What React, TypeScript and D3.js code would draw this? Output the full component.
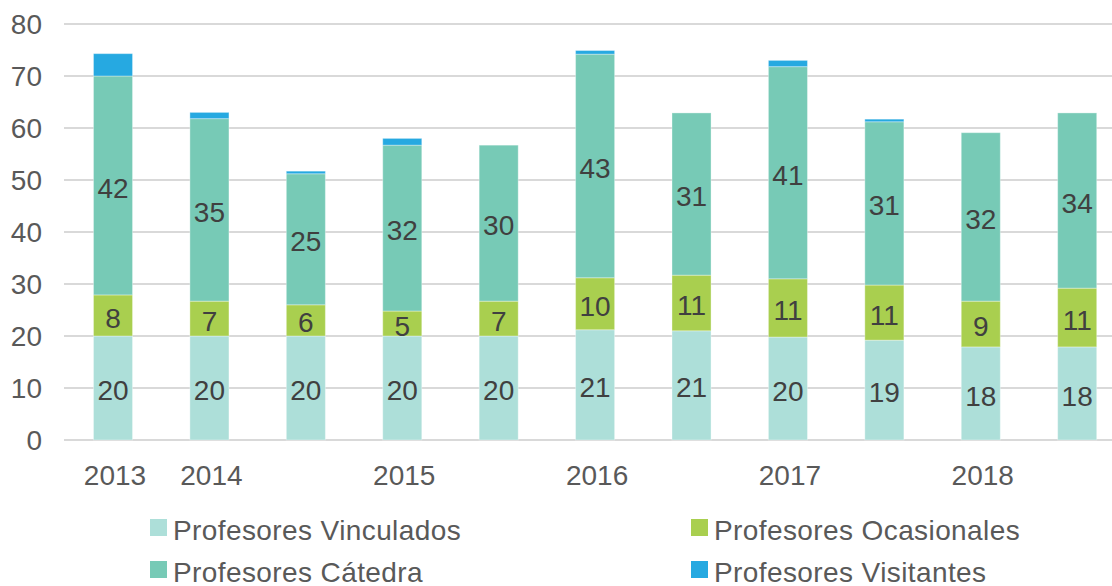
import React, { useEffect, useRef } from "react";
import * as d3 from "d3";

// categories (one per bar); only some get a year label under them
const categories = ["c1", "c2", "c3", "c4", "c5", "c6", "c7", "c8", "c9", "c10", "c11"];
const xLabels = ["2013", "2014", "", "2015", "", "2016", "", "2017", "", "2018", ""];

const vinculados = [20, 20, 20, 20, 20, 21.2, 21, 19.8, 19.2, 17.9, 17.9];
const ocasionales = [7.9, 6.7, 6.0, 4.8, 6.7, 10, 10.7, 11.2, 10.6, 8.8, 11.3];
const catedra = [42.1, 35.1, 25.2, 31.9, 30.0, 43.0, 31.2, 40.8, 31.4, 32.4, 33.7];
const visitantes = [4.3, 1.2, 0.5, 1.3, 0, 0.7, 0, 1.2, 0.5, 0, 0];

const seriesNames = ["Profesores Vinculados", "Profesores Ocasionales", "Profesores Cátedra", "Profesores Visitantes"];
const seriesColors = ["#addfd9", "#a9cf4f", "#77cab6", "#26a9e1"];
const labeledSeries = [true, true, true, false];

const yTicks = [0, 10, 20, 30, 40, 50, 60, 70, 80];

const W = 1112;
const H = 586;
const FONT = "'Liberation Sans', Arial, Helvetica, sans-serif";

export default function App() {
  const ref = useRef<SVGSVGElement | null>(null);

  useEffect(() => {
    const svg = d3.select(ref.current);
    svg.selectAll("*").remove();

    const rows = categories.map((c, i) => ({
      cat: c,
      s0: vinculados[i],
      s1: ocasionales[i],
      s2: catedra[i],
      s3: visitantes[i],
    }));
    const keys = ["s0", "s1", "s2", "s3"];
    const stacked = d3.stack<any>().keys(keys)(rows);

    const x = d3.scaleBand().domain(categories).range([64.8, 1125.4]).paddingInner(0.595).paddingOuter(0.2975);
    const y = d3.scaleLinear().domain([0, 80]).range([440, 24]);

    // gridlines
    svg.append("g")
      .selectAll("line")
      .data(yTicks)
      .join("line")
      .attr("x1", 64)
      .attr("x2", W)
      .attr("y1", (d) => y(d))
      .attr("y2", (d) => y(d))
      .attr("stroke", "#d9d9d9")
      .attr("stroke-width", 2);

    // y tick labels
    svg.append("g")
      .selectAll("text")
      .data(yTicks)
      .join("text")
      .attr("x", 42)
      .attr("y", (d) => y(d))
      .attr("dy", "0.36em")
      .attr("text-anchor", "end")
      .attr("font-family", FONT)
      .attr("font-size", 28)
      .attr("fill", "#595959")
      .text((d) => d);

    // bars
    const layers = svg.append("g")
      .selectAll("g")
      .data(stacked)
      .join("g")
      .attr("fill", (d, i) => seriesColors[i]);

    layers.selectAll("rect")
      .data((d) => d.filter((p) => p[1] - p[0] > 0))
      .join("rect")
      .attr("x", (d) => x(d.data.cat) as number)
      .attr("width", x.bandwidth())
      .attr("y", (d) => y(d[1]))
      .attr("height", (d) => y(d[0]) - y(d[1]))
      .attr("stroke", "#ffffff")
      .attr("stroke-opacity", 0.35)
      .attr("stroke-width", 1);

    // value labels inside the segments
    stacked.forEach((layer, si) => {
      if (!labeledSeries[si]) return;
      svg.append("g")
        .selectAll("text")
        .data(layer)
        .join("text")
        .attr("x", (d) => (x(d.data.cat) as number) + x.bandwidth() / 2)
        .attr("y", (d) => y((d[0] + d[1]) / 2) + 2)
        .attr("dy", "0.36em")
        .attr("text-anchor", "middle")
        .attr("font-family", FONT)
        .attr("font-size", 28)
        .attr("fill", "#404040")
        .text((d) => Math.round(d[1] - d[0]));
    });

    // x labels
    svg.append("g")
      .selectAll("text")
      .data(categories)
      .join("text")
      .attr("x", (d) => (x(d) as number) + x.bandwidth() / 2 + 2)
      .attr("y", 485)
      .attr("text-anchor", "middle")
      .attr("font-family", FONT)
      .attr("font-size", 28)
      .attr("fill", "#595959")
      .text((d, i) => xLabels[i]);

    // legend, two columns
    const legendPos = [
      [150, 519],
      [691, 519],
      [150, 561],
      [691, 561],
    ];
    const legend = svg.append("g")
      .selectAll("g")
      .data(seriesNames)
      .join("g")
      .attr("transform", (d, i) => `translate(${legendPos[i][0]}, ${legendPos[i][1]})`);

    legend.append("rect")
      .attr("width", 17)
      .attr("height", 17)
      .attr("fill", (d, i) => seriesColors[i]);

    legend.append("text")
      .attr("x", 23)
      .attr("y", 21)
      .attr("font-family", FONT)
      .attr("font-size", 28)
      .attr("letter-spacing", 0.4)
      .attr("fill", "#595959")
      .text((d) => d);
  }, []);

  return (
    <svg
      ref={ref}
      width={W}
      height={H}
      style={{ position: "absolute", left: 0, top: 0, background: "#fff" }}
    />
  );
}
